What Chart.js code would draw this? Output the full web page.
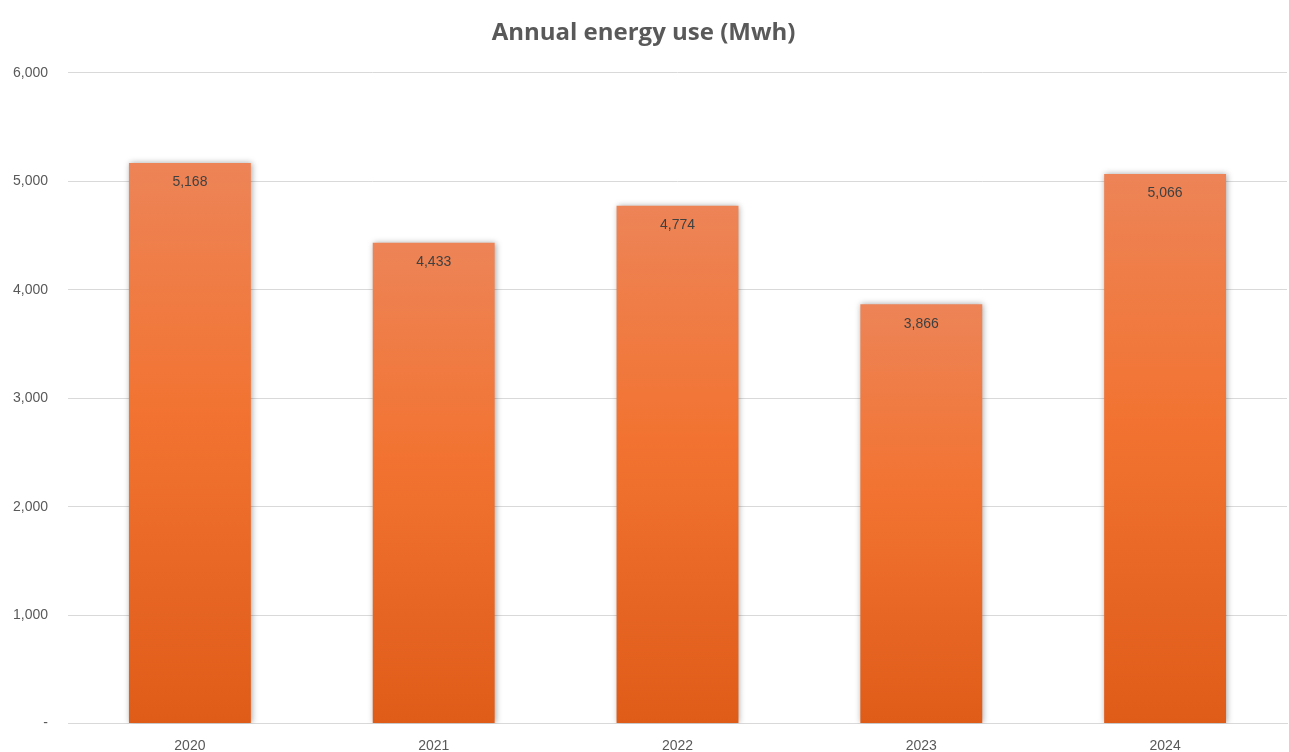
<!DOCTYPE html>
<html>
<head>
<meta charset="utf-8">
<script src="https://cdn.jsdelivr.net/npm/chart.js@4"></script>
<style>
  html, body { margin: 0; padding: 0; background: #fff; }
  #wrap { width: 1289px; height: 752px; }
</style>
</head>
<body>
<div id="wrap"><canvas id="energyChart" width="1289" height="752"></canvas></div>
<script>
// chart data
const years = ['2020', '2021', '2022', '2023', '2024'];
const energyUse = [5168, 4433, 4774, 3866, 5066];
const yTicks = [0, 1000, 2000, 3000, 4000, 5000, 6000];

function barGradient(context) {
    const chart = context.chart;
    const yScale = chart.scales.y;
    if (!yScale || !chart.chartArea) return '#EE7A3C';
    const v = context.raw;
    const top = yScale.getPixelForValue(v);
    const bottom = yScale.getPixelForValue(0);
    if (!isFinite(top) || !isFinite(bottom)) return '#EE7A3C';
    const g = chart.ctx.createLinearGradient(0, top, 0, bottom);
    g.addColorStop(0, '#ED8457');
    g.addColorStop(0.45, '#F27331');
    g.addColorStop(1, '#DF5B18');
    return g;
}

// shadow behind bars + value labels inside end
const barExtras = {
    id: 'barExtras',
    beforeDatasetsDraw(chart) {
        const ctx = chart.ctx;
        ctx.save();
        ctx.shadowColor = 'rgba(0,0,0,0.35)';
        ctx.shadowBlur = 6;
        ctx.shadowOffsetX = 1;
        ctx.shadowOffsetY = 0;
    },
    afterDatasetsDraw(chart) {
        const ctx = chart.ctx;
        ctx.restore();
        ctx.save();
        ctx.font = '14px "Liberation Sans", Arial, sans-serif';
        ctx.fillStyle = '#404040';
        ctx.textAlign = 'center';
        ctx.textBaseline = 'middle';
        const meta = chart.getDatasetMeta(0);
        meta.data.forEach((bar, i) => {
            ctx.fillText(energyUse[i].toLocaleString('en-US'), bar.x, bar.y + 19.5);
        });
        ctx.restore();
    }
};

new Chart(document.getElementById('energyChart'), {
    type: 'bar',
    data: {
        labels: years,
        datasets: [{
            data: energyUse,
            backgroundColor: barGradient,
            borderWidth: 0,
            categoryPercentage: 1.0,
            barPercentage: 0.5
        }]
    },
    options: {
        responsive: false,
        animation: false,
        layout: { padding: { left: 0, right: 2, top: 0, bottom: 0 } },
        plugins: {
            legend: { display: false },
            tooltip: { enabled: false },
            title: {
                display: true,
                text: 'Annual energy use (Mwh)',
                color: '#595959',
                font: { family: '"Open Sans", sans-serif', size: 24, weight: 'bold', lineHeight: 1.2 },
                padding: { top: 19, bottom: 25 }
            }
        },
        scales: {
            x: {
                grid: { display: false, drawTicks: false },
                border: { display: true, color: '#D9D9D9', width: 1 },
                ticks: {
                    color: '#595959',
                    font: { family: '"Liberation Sans", Arial, sans-serif', size: 14 },
                    padding: 14
                },
                afterFit(scale) { scale.height = 28; }
            },
            y: {
                min: 0,
                max: 6000,
                afterBuildTicks(scale) { scale.ticks = yTicks.map(v => ({ value: v })); },
                grid: { color: '#D9D9D9', lineWidth: 1, drawTicks: false },
                border: { display: false },
                ticks: {
                    color: '#595959',
                    font: { family: '"Liberation Sans", Arial, sans-serif', size: 14 },
                    padding: 20,
                    callback: v => v === 0 ? '-' : v.toLocaleString('en-US')
                },
                afterFit(scale) { scale.width = 68; }
            }
        }
    },
    plugins: [barExtras]
});
</script>
</body>
</html>
